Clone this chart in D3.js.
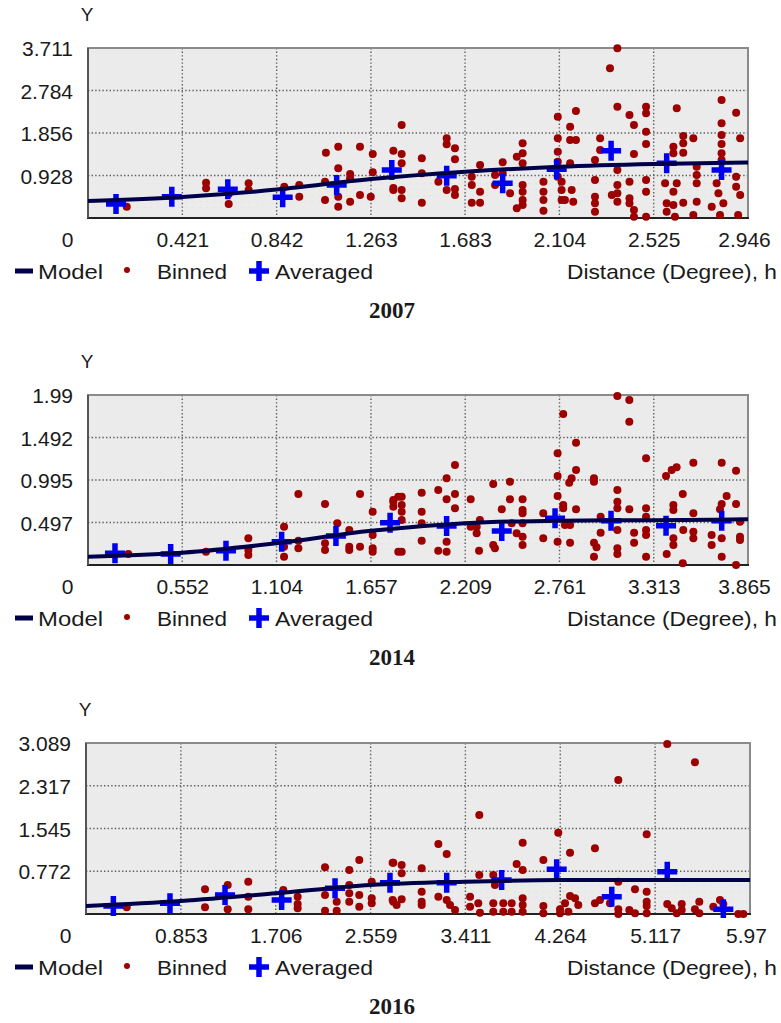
<!DOCTYPE html>
<html><head><meta charset="utf-8">
<script src="https://cdn.jsdelivr.net/npm/d3@7"></script>
<style>
body{margin:0;background:#fff;}
svg{display:block;}
text{font-family:"Liberation Sans",Arial,sans-serif;fill:#1a1a1a;}
</style></head>
<body>
<svg id="chart" width="781" height="1023"></svg>
<script>
// ---------- DATA ----------
const years = ["2007", "2014", "2016"];

const xTicks2007 = [0, 0.421, 0.842, 1.263, 1.683, 2.104, 2.525, 2.946];
const yTicks2007 = [0, 0.928, 1.856, 2.784, 3.711];
const xTicks2014 = [0, 0.552, 1.104, 1.657, 2.209, 2.761, 3.313, 3.865];
const yTicks2014 = [0, 0.497, 0.995, 1.492, 1.99];
const xTicks2016 = [0, 0.853, 1.706, 2.559, 3.411, 4.264, 5.117, 5.97];
const yTicks2016 = [0, 0.772, 1.545, 2.317, 3.089];

const model2007 = [[0,0.37],[0.421,0.46],[0.842,0.62],[1.263,0.85],[1.683,1.01],[2.104,1.12],[2.525,1.18],[2.946,1.21]];
const model2014 = [[0,0.097],[0.552,0.144],[1.104,0.254],[1.657,0.40],[2.209,0.488],[2.761,0.519],[3.313,0.525],[3.865,0.535]];
const model2016 = [[0,0.145],[0.853,0.235],[1.706,0.373],[2.559,0.524],[3.411,0.584],[4.264,0.614],[5.117,0.614],[5.97,0.614]];

const averaged2007 = [[0.125,0.306],[0.374,0.465],[0.624,0.626],[0.869,0.452],[1.110,0.72],[1.356,1.048],[1.601,0.923],[1.851,0.757],[2.092,1.063],[2.335,1.47],[2.583,1.194],[2.828,1.048]];
const averaged2014 = [[0.158,0.137],[0.484,0.129],[0.808,0.168],[1.134,0.273],[1.452,0.34],[1.769,0.495],[2.100,0.457],[2.423,0.398],[2.735,0.546],[3.063,0.519],[3.385,0.46],[3.711,0.519]];
const averaged2016 = [[0.246,0.145],[0.755,0.193],[1.250,0.343],[1.759,0.253],[2.239,0.464],[2.733,0.566],[3.243,0.566],[3.737,0.614],[4.232,0.807],[4.727,0.313],[5.226,0.764],[5.730,0.085]];

const binned2007 = [
[0.173,0.247],[0.527,0.771],[0.527,0.648],[0.628,0.524],[0.628,0.306],[0.717,0.757],[0.717,0.611],
[0.876,0.683],[0.943,0.72],[0.943,0.465],[1.062,1.426],[1.117,1.557],[1.214,1.557],[1.271,1.397],
[1.117,1.085],[1.170,0.96],[1.170,0.866],[1.271,0.997],[1.058,0.793],[1.058,0.393],[1.117,0.465],
[1.117,0.247],[1.170,0.356],[1.214,0.502],[1.262,0.465],[1.363,0.655],[1.400,2.03],[1.363,1.47],
[1.400,1.397],[1.400,1.194],[1.400,0.611],[1.400,0.43],[1.363,0.611],[1.490,1.303],[1.490,0.976],
[1.490,0.334],[1.601,1.74],[1.601,1.609],[1.638,1.521],[1.638,1.28],[1.564,0.793],[1.601,0.611],
[1.638,0.633],[1.638,0.502],[1.713,0.902],[1.713,0.72],[1.713,0.334],[1.750,1.157],[1.750,0.574],
[1.750,0.334],[1.817,0.939],[1.817,0.72],[1.851,1.216],[1.851,0.976],[1.884,0.539],[1.914,1.338],
[1.94,1.412],[1.94,1.63],[1.94,1.194],[1.94,0.72],[1.94,0.574],[1.94,0.393],[1.94,0.284],[1.914,0.212],
[2.033,0.793],[2.033,0.574],[2.033,0.393],[2.033,0.16],[2.097,2.211],[2.097,1.74],[2.097,1.448],
[2.097,1.229],[2.097,0.902],[2.114,0.793],[2.114,0.611],[2.114,0.393],[2.152,1.994],[2.152,1.703],
[2.178,2.336],[2.178,1.703],[2.152,1.194],[2.159,0.611],[2.166,0.356],[2.129,0.393],[2.263,1.266],
[2.263,0.83],[2.263,0.465],[2.263,0.321],[2.263,0.138],[2.286,1.74],[2.286,1.484],[2.330,3.268],
[2.363,3.705],[2.363,2.43],[2.363,1.048],[2.363,0.72],[2.363,0.539],[2.363,0.356],[2.338,0.502],
[2.417,2.249],[2.437,2.03],[2.437,1.397],[2.417,0.793],[2.417,0.43],[2.417,0.321],[2.437,0.175],
[2.437,0.028],[2.491,2.43],[2.491,2.285],[2.491,1.884],[2.491,1.615],[2.491,0.83],[2.491,0.574],
[2.491,0.028],[2.613,1.557],[2.613,1.412],[2.628,2.394],[2.657,1.79],[2.657,1.63],[2.657,1.426],
[2.702,1.74],[2.576,0.757],[2.613,0.574],[2.628,0.757],[2.583,0.321],[2.583,0.138],[2.613,0.284],
[2.620,0.028],[2.657,0.334],[2.702,0.066],[2.717,1.12],[2.717,0.939],[2.717,0.757],[2.717,0.356],
[2.828,2.576],[2.828,2.067],[2.828,1.812],[2.828,1.615],[2.828,1.412],[2.828,1.266],[2.893,2.299],
[2.911,1.74],[2.806,0.757],[2.814,0.539],[2.836,0.321],[2.784,0.247],[2.821,0.066],[2.893,0.902],
[2.893,0.683],[2.911,0.502],[2.902,0.066]
];

const binned2014 = [
[0.236,0.129],[0.691,0.156],[0.939,0.312],[0.939,0.176],[0.939,0.117],[1.148,0.448],[1.148,0.097],
[1.148,0.214],[1.232,0.831],[1.232,0.284],[1.232,0.195],[1.388,0.714],[1.388,0.254],[1.388,0.176],
[1.460,0.488],[1.530,0.41],[1.530,0.214],[1.530,0.176],[1.593,0.831],[1.593,0.214],[1.667,0.624],
[1.667,0.351],[1.667,0.195],[1.667,0.156],[1.788,0.761],[1.788,0.683],[1.817,0.8],[1.817,0.156],
[1.788,0.741],[1.837,0.8],[1.837,0.702],[1.837,0.624],[1.837,0.527],[1.837,0.156],[1.954,0.847],
[1.954,0.624],[1.954,0.488],[1.954,0.284],[2.051,0.878],[2.100,1.015],[2.149,1.171],[2.100,0.769],
[2.149,0.831],[2.149,0.664],[2.051,0.168],[2.100,0.273],[2.100,0.156],[2.241,0.769],[2.241,0.448],
[2.276,0.371],[2.295,0.527],[2.276,0.448],[2.290,0.168],[2.373,0.948],[2.373,0.234],[2.383,0.195],
[2.423,0.652],[2.471,0.975],[2.471,0.769],[2.481,0.488],[2.510,0.371],[2.545,0.769],[2.545,0.644],
[2.545,0.605],[2.545,0.488],[2.545,0.331],[2.545,0.234],[2.666,0.605],[2.666,0.312],[2.750,1.308],
[2.750,1.042],[2.750,0.808],[2.750,0.273],[2.783,1.768],[2.783,0.702],[2.783,0.664],[2.793,0.468],
[2.823,0.468],[2.823,0.261],[2.858,1.432],[2.858,1.112],[2.832,1.015],[2.818,0.963],[2.858,0.652],
[2.963,1.015],[2.963,0.975],[3.002,0.566],[3.002,0.378],[2.963,0.261],[2.978,0.207],[2.963,0.097],
[3.100,1.978],[3.170,1.931],[3.170,1.678],[3.100,0.878],[3.100,0.741],[3.100,0.664],[3.100,0.41],
[3.100,0.195],[3.100,0.129],[3.170,0.652],[3.198,0.378],[3.198,0.261],[3.268,1.249],[3.268,0.664],
[3.268,0.566],[3.268,0.41],[3.268,0.351],[3.268,0.097],[3.385,1.042],[3.418,1.112],[3.447,1.143],
[3.545,1.198],[3.428,0.702],[3.428,0.644],[3.483,0.831],[3.428,0.312],[3.428,0.234],[3.389,0.129],
[3.486,0.41],[3.483,0.02],[3.545,0.605],[3.545,0.39],[3.545,0.312],[3.652,0.351],[3.652,0.234],
[3.711,1.198],[3.740,0.808],[3.711,0.714],[3.701,0.652],[3.795,0.714],[3.795,1.104],[3.711,0.312],
[3.711,0.097],[3.795,0.0],[3.818,0.507],[3.818,0.331],[3.818,0.293]
];

const binned2016 = [
[0.366,0.121],[1.070,0.446],[1.070,0.121],[1.274,0.524],[1.274,0.085],[1.459,0.584],[1.459,0.313],
[1.459,0.085],[1.774,0.434],[1.903,0.313],[1.903,0.181],[1.903,0.103],[2.149,0.844],[2.149,0.343],
[2.149,0.06],[2.254,0.222],[2.254,0.06],[2.367,0.795],[2.367,0.524],[2.367,0.373],[2.367,0.222],
[2.457,0.975],[2.457,0.343],[2.457,0.132],[2.569,0.584],[2.569,0.284],[2.569,0.193],[2.757,0.927],
[2.757,0.253],[2.763,0.927],[2.838,0.885],[2.838,0.735],[2.763,0.222],[2.838,0.265],[2.793,0.163],
[3.018,0.825],[3.018,0.403],[3.018,0.222],[3.018,0.163],[3.168,1.264],[3.243,1.084],[3.168,0.313],
[3.243,0.253],[3.273,0.163],[3.318,0.072],[3.536,1.788],[3.536,0.704],[3.453,0.313],[3.527,0.193],
[3.542,0.023],[3.453,0.132],[3.662,0.704],[3.677,0.524],[3.662,0.193],[3.662,0.042],[3.752,0.193],
[3.752,0.042],[3.827,0.193],[3.827,0.042],[3.872,0.903],[3.926,0.795],[3.926,1.288],[3.926,0.284],
[3.926,0.163],[3.926,0.042],[4.112,0.975],[4.112,0.145],[4.112,0.013],[4.246,1.469],[4.352,1.107],
[4.262,0.085],[4.307,0.193],[4.352,0.325],[4.397,0.284],[4.426,0.163],[4.262,0.013],[4.337,0.042],
[4.576,1.186],[4.786,2.421],[4.576,0.193],[4.621,0.253],[4.711,0.193],[4.786,0.584],[4.786,0.085],
[4.786,0.0],[4.885,0.072],[4.936,0.446],[4.936,0.013],[5.041,1.44],[5.041,0.403],[5.041,0.222],
[5.041,0.145],[5.041,0.013],[5.226,3.071],[5.475,2.74],[5.226,0.181],[5.266,0.103],[5.311,0.013],
[5.356,0.072],[5.356,0.181],[5.514,0.222],[5.475,0.085],[5.514,0.013],[5.640,0.132],[5.700,0.253],
[5.730,0.181],[5.865,0.0],[5.910,0.0]
];

const legendLabels = ["Model", "Binned", "Averaged"];
const xAxisTitle = "Distance (Degree), h";
const yAxisTitle = "Y";

// ---------- LAYOUT ----------
const panels = [
  {year: years[0], xt: xTicks2007, yt: yTicks2007, model: model2007, avg: averaged2007, bin: binned2007, box: {l: 88, r: 748, t: 48, b: 218}},
  {year: years[1], xt: xTicks2014, yt: yTicks2014, model: model2014, avg: averaged2014, bin: binned2014, box: {l: 88, r: 748, t: 395, b: 565}},
  {year: years[2], xt: xTicks2016, yt: yTicks2016, model: model2016, avg: averaged2016, bin: binned2016, box: {l: 86, r: 750, t: 743, b: 914}}
];

const svg = d3.select("#chart");
const MODEL_C = "#00004a", BIN_C = "#9c0000", AVG_C = "#0000f0";
const plusPath = s => `M${-s},0H${s}M0,${-s}V${s}`;

// speckle pattern
const defs = svg.append("defs");
const pat = defs.append("pattern").attr("id", "speck").attr("width", 7).attr("height", 6).attr("patternUnits", "userSpaceOnUse");
pat.append("rect").attr("x", 0).attr("y", 0).attr("width", 1.2).attr("height", 1.2).attr("fill", "#f3efc4");
pat.append("rect").attr("x", 3.5).attr("y", 3).attr("width", 1.2).attr("height", 1.2).attr("fill", "#dcdcf0");

panels.forEach((p, i) => {
  const {l, r, t, b} = p.box;
  const xMax = p.xt[p.xt.length - 1], yMax = p.yt[p.yt.length - 1];
  const x = d3.scaleLinear().domain([0, xMax]).range([l, r]);
  const y = d3.scaleLinear().domain([0, yMax]).range([b, t]);
  const g = svg.append("g");

  g.append("rect").attr("x", l).attr("y", t).attr("width", r - l).attr("height", b - t).attr("fill", "#ebebeb");

  const clipId = "clip" + i;
  defs.append("clipPath").attr("id", clipId).append("rect").attr("x", l).attr("y", t - 6).attr("width", r - l).attr("height", b - t + 10);

  // faint speckle band under model
  const area = d3.area().x(d => x(d[0])).y0(d => y(d[1]) + 3).y1(d => Math.min(b - 2, y(d[1] * 0.4))).curve(d3.curveMonotoneX);
  g.append("path").datum(p.model).attr("d", area).attr("fill", "url(#speck)").attr("opacity", 0.8).attr("clip-path", `url(#${clipId})`);

  // grid
  const innerX = p.xt.slice(1, -1), innerY = p.yt.slice(1, -1);
  g.selectAll(".vg").data(innerX).join("line")
    .attr("x1", d => x(d)).attr("x2", d => x(d)).attr("y1", t).attr("y2", b)
    .attr("stroke", "#5e5e5e").attr("stroke-width", 1.4).attr("stroke-dasharray", "1.4,2.2");
  g.selectAll(".hg").data(innerY).join("line")
    .attr("x1", l).attr("x2", r).attr("y1", d => y(d)).attr("y2", d => y(d))
    .attr("stroke", "#5e5e5e").attr("stroke-width", 1.4).attr("stroke-dasharray", "1.4,2.2");

  // border
  g.append("rect").attr("x", l).attr("y", t).attr("width", r - l).attr("height", b - t)
    .attr("fill", "none").attr("stroke", "#8a8a8a").attr("stroke-width", 2);
  g.append("line").attr("x1", l - 1).attr("x2", r + 1).attr("y1", b).attr("y2", b).attr("stroke", "#222").attr("stroke-width", 2);
  g.append("line").attr("x1", l).attr("x2", l).attr("y1", t).attr("y2", b).attr("stroke", "#555").attr("stroke-width", 2);

  const plot = g.append("g").attr("clip-path", `url(#${clipId})`);
  // binned points
  plot.selectAll(".bin").data(p.bin).join("circle")
    .attr("cx", d => x(d[0])).attr("cy", d => y(d[1])).attr("r", 4)
    .attr("fill", BIN_C);
  // averaged crosses
  plot.selectAll(".avg").data(p.avg).join("path")
    .attr("transform", d => `translate(${x(d[0])},${y(d[1])})`).attr("d", plusPath(10))
    .attr("stroke", AVG_C).attr("stroke-width", 5.5).attr("fill", "none");
  // model line
  const line = d3.line().x(d => x(d[0])).y(d => y(d[1])).curve(d3.curveMonotoneX);
  plot.append("path").datum(p.model).attr("d", line).attr("fill", "none").attr("stroke", MODEL_C).attr("stroke-width", 4);

  // axes
  const xAxis = d3.axisBottom(x).tickValues(p.xt).tickSize(0).tickPadding(0).tickFormat(d => String(d));
  const xa = g.append("g").attr("transform", `translate(0,${b})`).call(xAxis);
  xa.select(".domain").remove();
  xa.selectAll("text").attr("dy", null).attr("y", 28.5).attr("font-size", 21).attr("fill", "#1a1a1a")
    .style("font-family", '"Liberation Sans",Arial,sans-serif');
  xa.selectAll(".tick").filter(d => d === 0).select("text").attr("text-anchor", "end").attr("x", -15);
  xa.selectAll(".tick").filter(d => d === xMax).select("text").attr("x", -4);

  const yAxis = d3.axisLeft(y).tickValues(p.yt.slice(1)).tickSize(0).tickPadding(15).tickFormat(d => String(d));
  const ya = g.append("g").attr("transform", `translate(${l},0)`).call(yAxis);
  ya.select(".domain").remove();
  ya.selectAll("text").attr("font-size", 21).attr("fill", "#1a1a1a").attr("dy", "0.36em")
    .style("font-family", '"Liberation Sans",Arial,sans-serif');

  // Y title
  g.append("text").attr("x", l - 1).attr("y", t - 27).attr("text-anchor", "middle").attr("font-size", 19).text(yAxisTitle);

  // legend
  const ly = b + 53;
  const lg = g.append("g");
  lg.append("rect").attr("x", 15).attr("y", ly - 2.5).attr("width", 18).attr("height", 5).attr("fill", MODEL_C);
  lg.append("text").attr("x", 38).attr("y", ly + 7.5).attr("font-size", 21).attr("textLength", 65).attr("lengthAdjust", "spacingAndGlyphs").text(legendLabels[0]);
  lg.append("circle").attr("cx", 127).attr("cy", ly - 1).attr("r", 3).attr("fill", BIN_C);
  lg.append("text").attr("x", 157).attr("y", ly + 7.5).attr("font-size", 21).attr("textLength", 70).attr("lengthAdjust", "spacingAndGlyphs").text(legendLabels[1]);
  lg.append("path").attr("transform", `translate(259,${ly})`).attr("d", plusPath(10)).attr("stroke", AVG_C).attr("stroke-width", 5.5);
  lg.append("text").attr("x", 275).attr("y", ly + 7.5).attr("font-size", 21).attr("textLength", 98).attr("lengthAdjust", "spacingAndGlyphs").text(legendLabels[2]);
  lg.append("text").attr("x", 777).attr("y", ly + 7.5).attr("text-anchor", "end").attr("font-size", 21).attr("textLength", 210).attr("lengthAdjust", "spacingAndGlyphs").text(xAxisTitle);

  // year caption
  g.append("text").attr("x", 392).attr("y", b + 92 + 8).attr("text-anchor", "middle")
    .attr("font-size", 23).attr("font-weight", "bold").style("font-family", '"Liberation Serif","Times New Roman",serif')
    .attr("fill", "#000").text(p.year);
});
</script>
</body></html>
